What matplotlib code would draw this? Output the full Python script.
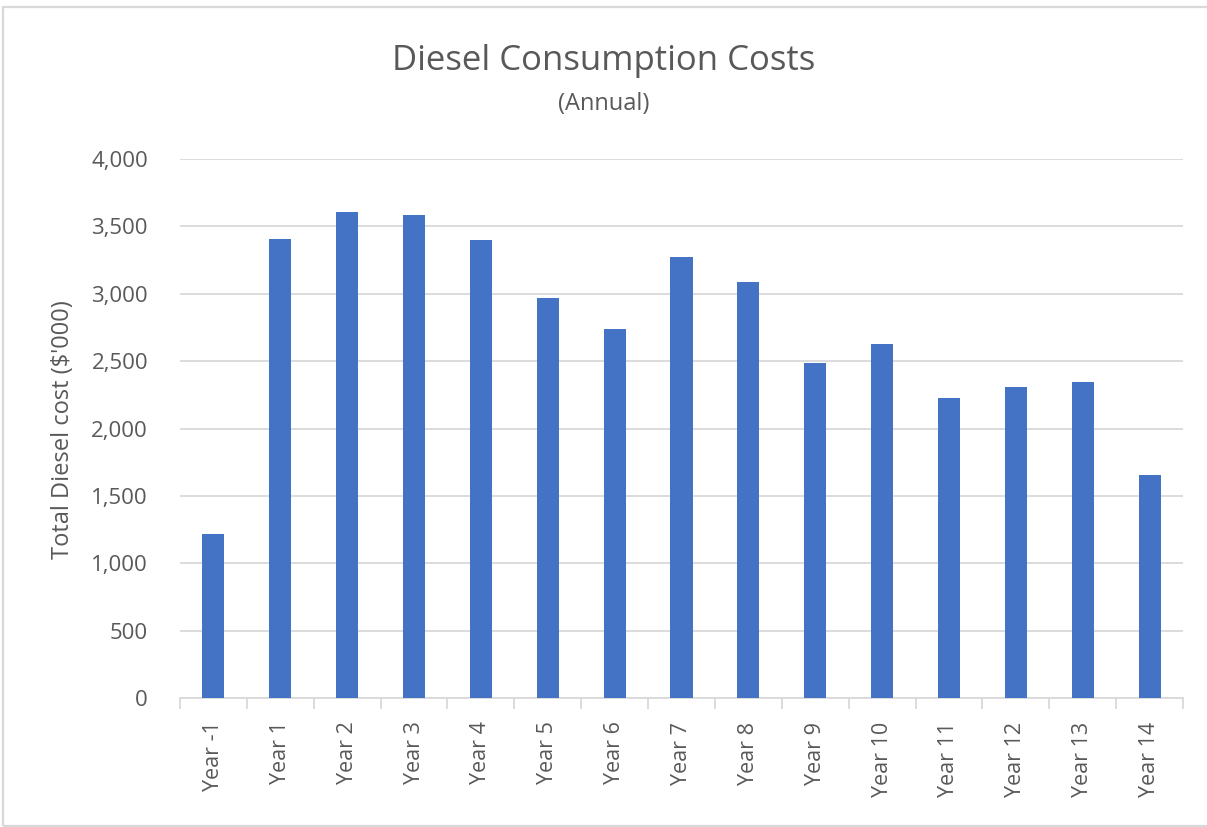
import matplotlib
matplotlib.use("Agg")
import matplotlib.pyplot as plt
from matplotlib.patches import Rectangle
import numpy as np

plt.rcParams['font.family'] = ['Open Sans', 'DejaVu Sans']

categories = ["Year -1", "Year 1", "Year 2", "Year 3", "Year 4", "Year 5", "Year 6",
              "Year 7", "Year 8", "Year 9", "Year 10", "Year 11", "Year 12",
              "Year 13", "Year 14"]
diesel_cost = [1220, 3410, 3605, 3585, 3400, 2967, 2742, 3270, 3088, 2485,
               2625, 2225, 2305, 2345, 1658]
y_ticks = [0, 500, 1000, 1500, 2000, 2500, 3000, 3500, 4000]

BAR = "#4472C4"
GRID = "#D9D9D9"
TEXT = "#595959"

W, H = 1207, 827
fig = plt.figure(figsize=(W / 100, H / 100), dpi=100)

# chart area border
fig.add_artist(Rectangle((3 / W, 1 / H), (W + 10) / W, (H - 8) / H,
                         transform=fig.transFigure, fill=False,
                         edgecolor="#D9D9D9", linewidth=1.6))

ax = fig.add_axes([180 / W, 1 - 698 / H, (1183 - 180) / W, (698 - 159) / H])

x = np.arange(len(categories))
ax.bar(x, diesel_cost, width=0.33, color=BAR, zorder=3)

ax.set_xlim(-0.5, len(categories) - 0.5)
ax.set_ylim(0, 4000)
ax.set_yticks(y_ticks)
ax.set_yticklabels([f"{v:,}" for v in y_ticks])
ax.yaxis.grid(True, color=GRID, linewidth=1.3)
ax.set_axisbelow(True)

ax.set_xticks(x)
ax.set_xticklabels(categories, rotation=90)
ax.set_xticks(np.arange(len(categories) + 1) - 0.5, minor=True)
ax.tick_params(axis='x', which='major', length=0, pad=17, labelsize=15.5, labelcolor=TEXT)
ax.tick_params(axis='x', which='minor', length=8, width=1.3, color=GRID, direction='out')
ax.tick_params(axis='y', length=0, pad=23, labelsize=16, labelcolor=TEXT)

for s in ['top', 'right', 'left']:
    ax.spines[s].set_visible(False)
ax.spines['bottom'].set_color(GRID)
ax.spines['bottom'].set_linewidth(1.3)

# axis title
fig.text(63 / W, 1 - 430 / H, "Total Diesel cost ($'000)", rotation=90,
         ha='center', va='center', fontsize=17, color=TEXT)

fig.text(0.5, 1 - 61 / H, "Diesel Consumption Costs",
         ha='center', va='center', fontsize=25, color=TEXT)
fig.text(0.5, 1 - 104 / H, "(Annual)",
         ha='center', va='center', fontsize=17, color=TEXT)

fig.savefig("out.png", dpi=100, facecolor="white")
